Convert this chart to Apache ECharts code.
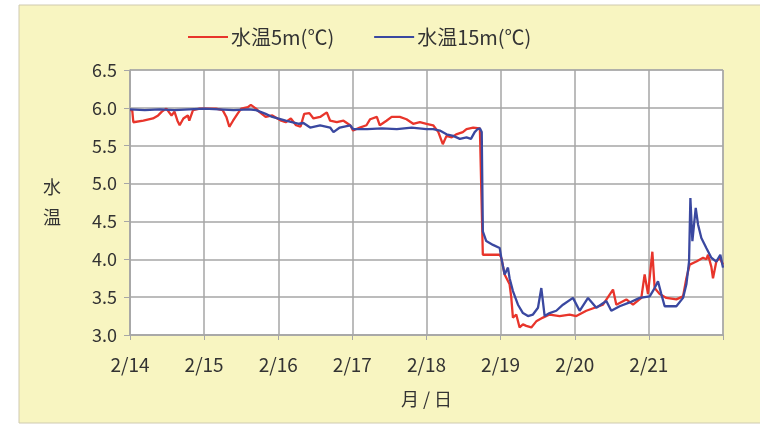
<!DOCTYPE html>
<html>
<head>
<meta charset="utf-8">
<script src="https://cdn.jsdelivr.net/npm/echarts@6/dist/echarts.min.js"></script>
<style>
html,body{margin:0;padding:0;background:#fff;}
#c{width:760px;height:424px;}
</style>
</head>
<body>
<div id="c"></div>
<script>
// days since 2/14 00:00
var dayLabels = ['2/14','2/15','2/16','2/17','2/18','2/19','2/20','2/21'];
var yTicks = [3.0, 3.5, 4.0, 4.5, 5.0, 5.5, 6.0, 6.5];
var seriesNames = ['水温5m(℃)', '水温15m(℃)'];

var t5 = [0,0.03,0.045,0.18,0.31,0.38,0.43,0.49,0.56,0.6,0.64,0.67,0.72,0.78,0.8,0.85,0.94,1.16,1.25,1.3,1.34,1.39,1.45,1.5,1.59,1.63,1.7,1.74,1.83,1.92,2.04,2.1,2.17,2.24,2.3,2.35,2.42,2.475,2.565,2.655,2.7,2.79,2.88,2.97,3.01,3.1,3.19,3.24,3.33,3.37,3.46,3.53,3.64,3.73,3.82,3.91,4.0,4.09,4.16,4.22,4.27,4.34,4.4,4.49,4.54,4.63,4.72,4.745,4.76,4.897,4.987,5.009,5.054,5.121,5.144,5.166,5.211,5.256,5.301,5.346,5.414,5.481,5.571,5.661,5.796,5.931,6.021,6.156,6.381,6.516,6.561,6.696,6.786,6.898,6.943,6.988,7.047,7.078,7.146,7.236,7.371,7.461,7.506,7.551,7.641,7.731,7.775,7.798,7.843,7.865,7.91,7.955,8.0];
var v5 = [5.97,5.97,5.81,5.83,5.86,5.90,5.95,5.99,5.90,5.95,5.83,5.77,5.86,5.90,5.83,5.97,5.99,5.99,5.97,5.88,5.75,5.83,5.92,5.99,6.01,6.04,5.99,5.95,5.88,5.90,5.83,5.81,5.86,5.77,5.75,5.92,5.93,5.86,5.88,5.94,5.83,5.81,5.83,5.77,5.70,5.74,5.77,5.85,5.88,5.77,5.83,5.88,5.88,5.85,5.79,5.81,5.79,5.77,5.68,5.52,5.63,5.61,5.65,5.68,5.72,5.74,5.73,5.72,4.06,4.06,4.06,4.02,3.80,3.67,3.49,3.23,3.27,3.10,3.14,3.12,3.10,3.18,3.23,3.27,3.25,3.27,3.25,3.32,3.40,3.60,3.40,3.47,3.40,3.49,3.80,3.54,4.10,3.62,3.54,3.49,3.47,3.51,3.75,3.93,3.97,4.02,4.00,4.06,3.90,3.75,3.97,4.02,3.93];

var t15 = [0,0.2,0.4,0.6,0.8,1.0,1.2,1.4,1.6,1.7,1.83,1.92,2.1,2.28,2.34,2.43,2.565,2.7,2.745,2.83,2.97,3.01,3.2,3.4,3.6,3.8,4.0,4.09,4.18,4.27,4.36,4.45,4.54,4.6,4.65,4.69,4.72,4.745,4.76,4.806,4.897,4.987,5.009,5.054,5.099,5.121,5.166,5.234,5.301,5.369,5.436,5.504,5.549,5.594,5.661,5.751,5.841,5.976,6.066,6.179,6.291,6.426,6.493,6.606,6.741,6.876,7.011,7.078,7.123,7.168,7.213,7.371,7.461,7.506,7.542,7.56,7.587,7.632,7.663,7.708,7.775,7.843,7.91,7.964,8.0];
var v15 = [5.98,5.97,5.98,5.97,5.98,5.99,5.98,5.97,5.98,5.97,5.92,5.88,5.83,5.79,5.80,5.74,5.77,5.74,5.68,5.74,5.77,5.72,5.72,5.73,5.72,5.74,5.72,5.72,5.70,5.65,5.63,5.59,5.61,5.59,5.68,5.72,5.73,5.68,4.37,4.24,4.19,4.15,4.02,3.80,3.89,3.75,3.58,3.40,3.29,3.25,3.27,3.36,3.62,3.25,3.29,3.32,3.40,3.49,3.32,3.49,3.36,3.45,3.32,3.38,3.43,3.49,3.51,3.62,3.71,3.54,3.38,3.38,3.49,3.67,3.97,4.81,4.24,4.68,4.46,4.28,4.15,4.02,3.97,4.06,3.89];

function zip(t, v){ return t.map(function(x,i){ return [x, v[i]]; }); }

var FONT = '"Noto Sans CJK JP", "Noto Sans", sans-serif';
var TXT = '#333333';
var GRID = '#a6a6a6';

var chart = echarts.init(document.getElementById('c'), null, {renderer:'canvas'});
chart.setOption({
  backgroundColor: '#ffffff',
  animation: false,
  textStyle: {fontFamily: FONT},
  graphic: [{
    type: 'rect', z: -10, silent: true,
    shape: {x: 19, y: 5, width: 745, height: 418},
    style: {fill: '#f8f5c1', stroke: '#cfcab0', lineWidth: 1}
  }],
  legend: {
    top: 22, left: 183,
    itemWidth: 40, itemHeight: 2, itemGap: 40,
    icon: 'rect',
    textStyle: {fontSize: 20, color: TXT, fontFamily: FONT, padding: [0, 0, 0, -2]},
    data: seriesNames
  },
  grid: {
    left: 130, right: 37, top: 70, bottom: 89,
    show: true, backgroundColor: '#ffffff', borderColor: GRID, borderWidth: 1
  },
  xAxis: {
    type: 'value', min: 0, max: 8, interval: 1,
    name: '月 / 日', nameLocation: 'middle', nameGap: 55,
    nameTextStyle: {fontSize: 18, color: TXT, fontFamily: FONT},
    axisLine: {show: true, lineStyle: {color: GRID, width: 1.5}},
    axisTick: {show: true, length: 5, lineStyle: {color: GRID}},
    axisLabel: {fontSize: 19, color: TXT, margin: 20, fontFamily: FONT,
      formatter: function(v){ return dayLabels[Math.round(v)] || ''; }},
    splitLine: {show: true, lineStyle: {color: GRID, width: 1.5}}
  },
  yAxis: {
    type: 'value', min: yTicks[0], max: yTicks[yTicks.length-1], interval: 0.5,
    name: '水\n温', nameLocation: 'middle', nameRotate: 0, nameGap: 78,
    nameTextStyle: {fontSize: 18, color: TXT, lineHeight: 30, fontFamily: FONT, align: 'center'},
    axisLine: {show: true, lineStyle: {color: GRID, width: 1.5}},
    axisTick: {show: true, length: 6, lineStyle: {color: GRID}},
    axisLabel: {fontSize: 18, color: TXT, margin: 13, fontFamily: FONT,
      formatter: function(v){ return v.toFixed(1); }},
    splitLine: {show: true, lineStyle: {color: GRID, width: 1.5}}
  },
  series: [
    {name: seriesNames[0], type: 'line', data: zip(t5, v5), showSymbol: false, symbol: 'none',
     lineStyle: {color: '#e8352b', width: 2.3}, itemStyle: {color: '#e8352b'}},
    {name: seriesNames[1], type: 'line', data: zip(t15, v15), showSymbol: false, symbol: 'none',
     lineStyle: {color: '#3a48a0', width: 2.3}, itemStyle: {color: '#3a48a0'}}
  ]
});
</script>
</body>
</html>
